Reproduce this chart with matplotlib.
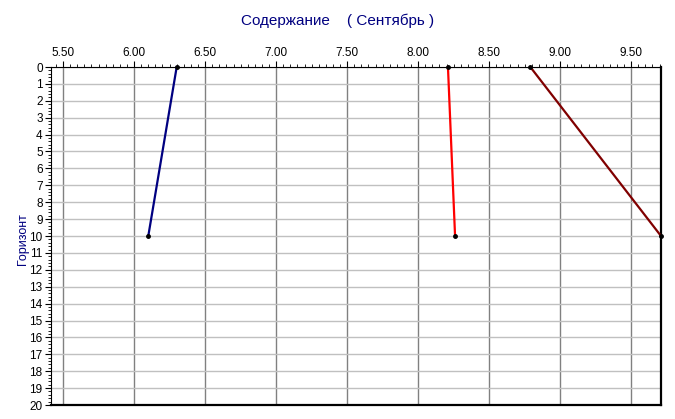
import matplotlib.pyplot as plt
import numpy as np
from matplotlib.ticker import MultipleLocator

plt.rcParams['font.family'] = ['Liberation Sans', 'DejaVu Sans']

depth = [0, 10]
blue = [6.30, 6.10]
red = [8.21, 8.26]
brown = [8.79, 9.71]
xticks = [5.5, 6.0, 6.5, 7.0, 7.5, 8.0, 8.5, 9.0, 9.5]
yticks = list(range(0, 21))

fig = plt.figure(figsize=(6.75, 4.19), dpi=100)
ax = fig.add_axes([51/675, 1 - 405/419, 610/675, 338/419])

ax.plot(blue, depth, color="#000080", lw=1.6, marker="o", ms=2.5, mfc="black", mec="black", clip_on=False, zorder=3)
ax.plot(red, depth, color="#ff0000", lw=1.6, marker="o", ms=2.5, mfc="black", mec="black", clip_on=False, zorder=3)
ax.plot(brown, depth, color="#800000", lw=1.6, marker="o", ms=2.5, mfc="black", mec="black", clip_on=False, zorder=3)

ax.set_xlim(5.415, 9.71)
ax.set_ylim(20, 0)
ax.xaxis.tick_top()
ax.set_xticks(xticks)
ax.set_xticklabels(["%.2f" % v for v in xticks])
ax.set_yticks(yticks)
ax.xaxis.set_minor_locator(MultipleLocator(0.05))
ax.yaxis.set_minor_locator(MultipleLocator(0.2))
ax.tick_params(axis="both", labelsize=8.5, length=4, width=0.8, pad=2)
ax.tick_params(axis="both", which="minor", length=2, width=0.6)
ax.xaxis.grid(True, color="#808080", lw=1)
ax.yaxis.grid(True, color="#c0c0c0", lw=1)
ax.set_axisbelow(True)
for s in ["right", "bottom"]:
    ax.spines[s].set_linewidth(1.6)
ax.spines["top"].set_linewidth(0.8)
ax.spines["left"].set_linewidth(0.8)

ax.set_ylabel("Горизонт", color="#000080", fontsize=9)
ax.yaxis.set_label_coords(-0.036, 0.49)
fig.text(0.5, 1 - 21/419, "Содержание    ( Сентябрь )", ha="center", va="center", color="#000080", fontsize=11)

fig.savefig("out.png", dpi=100)
